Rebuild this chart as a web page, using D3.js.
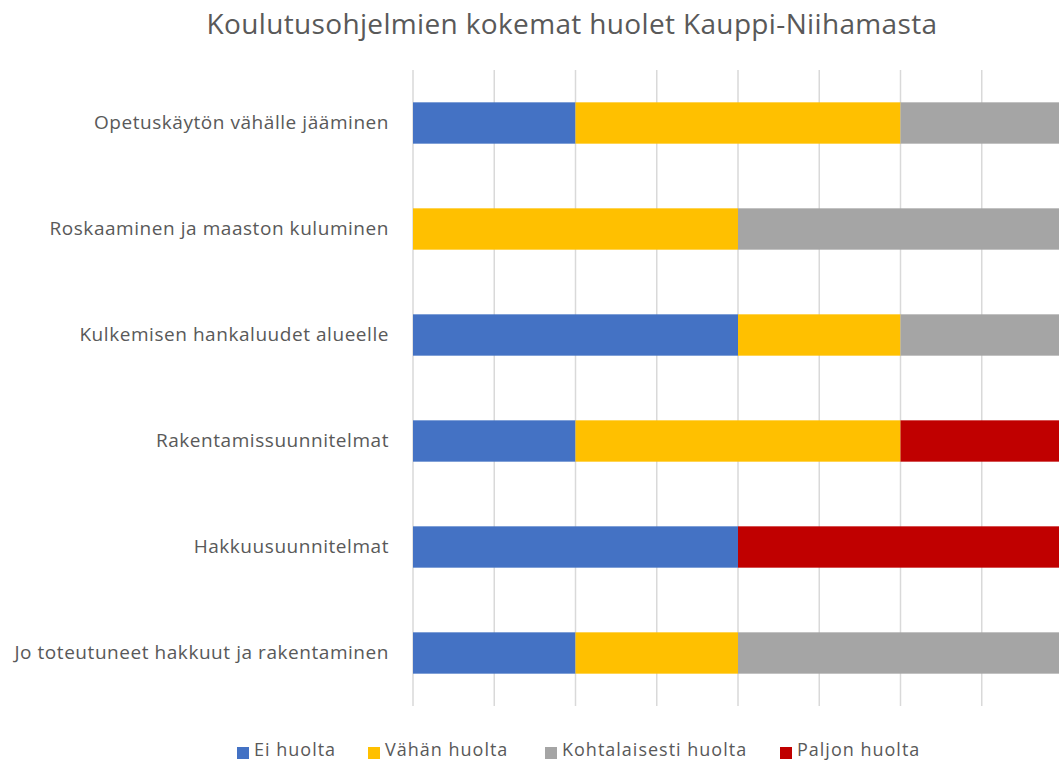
<!DOCTYPE html>
<html>
<head>
<meta charset="utf-8">
<script src="https://cdn.jsdelivr.net/npm/d3@7"></script>
<style>
  body { margin: 0; background: #fff; }
  text { font-family: "Open Sans", "Noto Sans", sans-serif; fill: #595959; }
</style>
</head>
<body>
<svg id="chart"></svg>
<script>
// data
const categories = [
    "Opetuskäytön vähälle jääminen",
    "Roskaaminen ja maaston kuluminen",
    "Kulkemisen hankaluudet alueelle",
    "Rakentamissuunnitelmat",
    "Hakkuusuunnitelmat",
    "Jo toteutuneet hakkuut ja rakentaminen"
];
const seriesNames = ["Ei huolta", "Vähän huolta", "Kohtalaisesti huolta", "Paljon huolta"];
const eiHuolta = [1, 0, 2, 1, 2, 1];
const vahanHuolta = [2, 2, 1, 2, 0, 1];
const kohtalaisestiHuolta = [1, 2, 1, 0, 0, 2];
const paljonHuolta = [0, 0, 0, 1, 2, 0];
const xTicks = [0, 0.5, 1, 1.5, 2, 2.5, 3, 3.5, 4];
const colors = ["#4472C4", "#FFC000", "#A5A5A5", "#C00000"];
const title = "Koulutusohjelmien kokemat huolet Kauppi-Niihamasta";

const width = 1059, height = 762;
const margin = {top: 70, left: 413, right: -4, bottom: 56};

const svg = d3.select("#chart")
    .attr("width", width)
    .attr("height", height);

const table = categories.map((c, i) => ({
    name: c,
    "Ei huolta": eiHuolta[i],
    "Vähän huolta": vahanHuolta[i],
    "Kohtalaisesti huolta": kohtalaisestiHuolta[i],
    "Paljon huolta": paljonHuolta[i]
}));
const stacked = d3.stack().keys(seriesNames)(table);

const xScale = d3.scaleLinear()
    .domain([0, 4])
    .range([margin.left, width - margin.right]);

const yScale = d3.scaleBand()
    .domain(categories)
    .range([margin.top, height - margin.bottom])
    .paddingInner(0.61)
    .paddingOuter(0.305);

const colorScale = d3.scaleOrdinal().domain(seriesNames).range(colors);

// gridlines
svg.append("g")
    .selectAll("line")
    .data(xTicks)
    .join("line")
    .attr("x1", d => xScale(d))
    .attr("x2", d => xScale(d))
    .attr("y1", margin.top)
    .attr("y2", height - margin.bottom)
    .attr("stroke", "#D9D9D9")
    .attr("stroke-width", 1.5);

// bars
svg.append("g")
    .selectAll("g")
    .data(stacked)
    .join("g")
    .attr("fill", d => colorScale(d.key))
    .selectAll("rect")
    .data(d => d)
    .join("rect")
    .attr("x", d => xScale(d[0]))
    .attr("y", d => yScale(d.data.name))
    .attr("width", d => xScale(d[1]) - xScale(d[0]))
    .attr("height", yScale.bandwidth());

// category labels
const yAxis = d3.axisLeft(yScale).tickSize(0).tickPadding(24);
svg.append("g")
    .attr("transform", `translate(${margin.left},0)`)
    .call(yAxis)
    .call(g => g.select(".domain").remove())
    .call(g => g.selectAll("text")
        .style("font-size", "19px")
        .style("font-family", '"Open Sans", sans-serif')
        .style("letter-spacing", "0.55px")
        .attr("fill", "#595959"));

// title
svg.append("text")
    .attr("x", 572)
    .attr("y", 34)
    .attr("text-anchor", "middle")
    .style("font-size", "28px")
    .style("letter-spacing", "0.35px")
    .text(title);

// legend
const legendX = [237, 368, 545, 780];
const legend = svg.append("g")
    .selectAll("g")
    .data(seriesNames)
    .join("g")
    .attr("transform", (d, i) => `translate(${legendX[i]},747)`);
legend.append("rect")
    .attr("width", 12)
    .attr("height", 12)
    .attr("fill", d => colorScale(d));
legend.append("text")
    .attr("x", 17)
    .attr("y", 9)
    .style("font-size", "18px")
    .style("letter-spacing", "1px")
    .text(d => d);
</script>
</body>
</html>
